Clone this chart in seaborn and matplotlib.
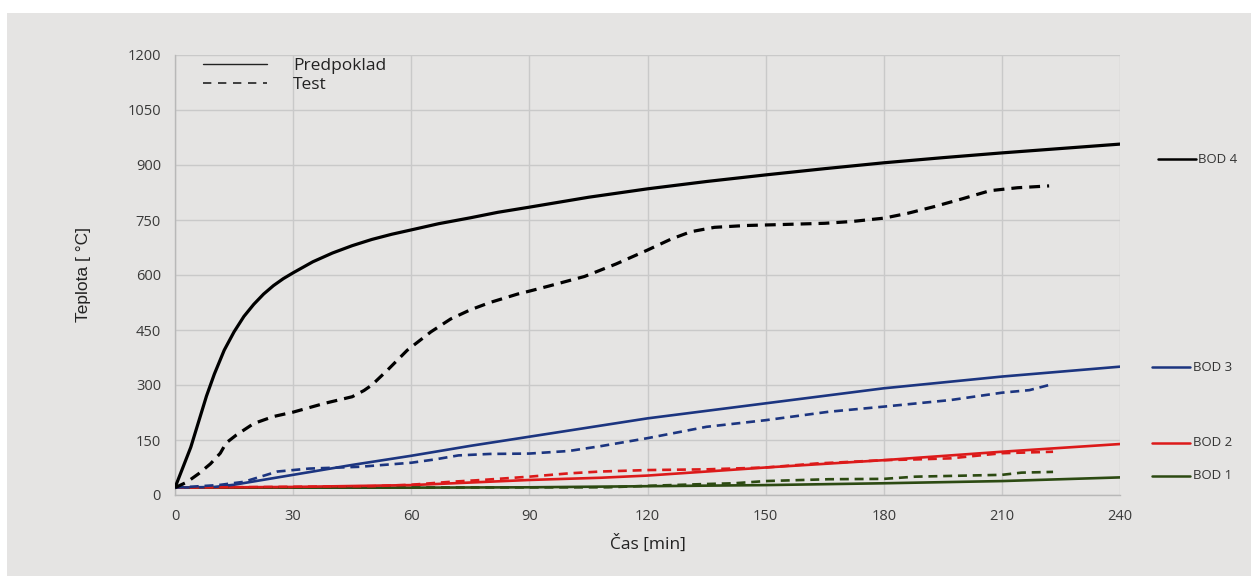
import matplotlib
matplotlib.use("Agg")
import matplotlib.pyplot as plt
import matplotlib.transforms as mtransforms
from matplotlib.lines import Line2D
from matplotlib.patches import Rectangle
import seaborn as sns

# Data (time in minutes, temperature in degC)
bod4_pred_t = [0, 2, 4, 6, 8, 10, 12.5, 15, 17.5, 20, 22.5, 25, 27.5, 30, 35, 40, 45, 50, 55, 60, 67, 75,
               82, 90, 105, 120, 135, 150, 165, 180, 195, 210, 225, 240]
bod4_pred_v = [20, 75, 130, 200, 270, 330, 395, 445, 487, 520, 548, 571, 590, 606, 636, 660, 680, 697, 711, 723,
               740, 756, 771, 785, 812, 835, 855, 873, 890, 906, 920, 933, 945, 957]

bod4_test_t = [0, 3, 6, 9, 11.5, 13, 15.5, 20, 25, 30, 38, 45, 48, 50, 54, 59, 65, 70, 75, 80, 87, 90, 95,
               104, 112, 120, 126, 131, 137, 145, 152, 165, 172, 180, 186, 193, 200, 207, 214, 222]
bod4_test_v = [20, 35, 58, 85, 114, 142, 163, 195, 214, 226, 250, 268, 285, 300, 341, 395, 445, 480, 505, 525,
               548, 556, 570, 596, 630, 668, 698, 718, 730, 735, 737, 741, 746, 755, 768, 787, 808, 830, 838, 843]

bod3_pred_t = [0, 10, 15, 20, 30, 45, 60, 75, 90, 120, 150, 180, 210, 240]
bod3_pred_v = [20, 22, 28, 37, 55, 82, 107, 134, 159, 209, 250, 291, 323, 350]

bod3_test_t = [0, 11, 17.5, 26, 34, 47, 60, 66, 72, 80, 90, 100, 108, 120, 135, 150, 166, 180, 197, 210, 217, 222]
bod3_test_v = [20, 27, 36, 64, 72, 77, 88, 97, 108, 112, 113, 120, 133, 155, 186, 204, 227, 241, 259, 279, 286, 300]

bod2_pred_t = [0, 30, 60, 90, 108, 120, 150, 180, 210, 240]
bod2_pred_v = [20, 22, 27, 41, 47, 53, 75, 95, 118, 139]

bod2_test_t = [0, 50, 60, 70, 78, 90, 100, 108, 120, 135, 150, 163, 180, 188, 197, 210, 223]
bod2_test_v = [20, 24, 28, 36, 41, 50, 59, 64, 68, 70, 75, 86, 95, 97, 100, 114, 118]

bod1_pred_t = [0, 60, 90, 120, 150, 180, 210, 240]
bod1_pred_v = [20, 20, 21, 24, 27, 32, 38, 48]

bod1_test_t = [0, 110, 120, 135, 142, 150, 166, 180, 188, 210, 215, 223]
bod1_test_v = [20, 21, 25, 30, 32, 38, 43, 44, 50, 55, 61, 63]

bod_names = ["BOD 1", "BOD 2", "BOD 3", "BOD 4"]
bod_colors = ["#2c4a12", "#dc1a1a", "#1c3580", "#000000"]
label_y = [52, 142, 349, 916]

x_ticks = [0, 30, 60, 90, 120, 150, 180, 210, 240]
y_ticks = [0, 150, 300, 450, 600, 750, 900, 1050, 1200]

BG = "#e5e4e3"
TEXT = "#3a3a3a"


def draw_chart():
    sns.set_theme(style="whitegrid")
    plt.rcParams["font.family"] = ["Open Sans", "DejaVu Sans"]

    fig = plt.figure(figsize=(12.51, 5.76), dpi=100, facecolor="white")
    # grey panel (white strip along top and left edge as in the screenshot)
    fig.patches.append(Rectangle((7 / 1251, 0), 1, 1 - 13 / 576, transform=fig.transFigure,
                                 facecolor=BG, edgecolor="none", zorder=-10))
    ax = fig.add_axes([175 / 1251, 81 / 576, 945 / 1251, 440 / 576])
    ax.set_facecolor(BG)

    series = [
        (bod1_pred_t, bod1_pred_v, bod1_test_t, bod1_test_v),
        (bod2_pred_t, bod2_pred_v, bod2_test_t, bod2_test_v),
        (bod3_pred_t, bod3_pred_v, bod3_test_t, bod3_test_v),
        (bod4_pred_t, bod4_pred_v, bod4_test_t, bod4_test_v),
    ]
    for (pt, pv, tt, tv), color in zip(series, bod_colors):
        lw = 2.3 if color == "#000000" else 1.9
        sns.lineplot(x=pt, y=pv, ax=ax, color=color, linewidth=lw, zorder=3)
        sns.lineplot(x=tt, y=tv, ax=ax, color=color, linewidth=lw,
                     linestyle=(0, (3.4, 2.2)), zorder=4)

    ax.set_xlim(0, 240)
    ax.set_ylim(0, 1200)
    ax.set_xticks(x_ticks)
    ax.set_yticks(y_ticks)
    ax.tick_params(axis="both", length=0, labelsize=10.5, colors=TEXT, pad=10)
    ax.grid(True, color="#c9c9c9", linewidth=1.0)
    for side in ["top", "right"]:
        ax.spines[side].set_visible(False)
    for side in ["left", "bottom"]:
        ax.spines[side].set_color("#b8b8b8")
        ax.spines[side].set_linewidth(1.0)

    ax.set_xlabel("Čas [min]", fontsize=12.5, color="#222222", labelpad=8)
    ax.set_ylabel("Teplota [ °C]", fontsize=12.5, color="#222222", labelpad=26,
                  family=["Liberation Sans", "DejaVu Sans"])

    # legend: line style only
    handles = [
        Line2D([], [], color="#222222", linewidth=1.0),
        Line2D([], [], color="#222222", linewidth=1.2, linestyle=(0, (5, 4))),
    ]
    ax.legend(handles, ["Predpoklad", "Test"], loc="upper left", frameon=False,
              fontsize=12.5, handlelength=3.7, handletextpad=1.5, labelspacing=0.2,
              bbox_to_anchor=(0.013, 1.03), labelcolor="#222222")

    # point labels to the right of the plot
    trans = mtransforms.blended_transform_factory(ax.transAxes, ax.transData)
    for name, color, yv in zip(bod_names, bod_colors, label_y):
        x0 = 1.040 if name == "BOD 4" else 1.034
        x1 = x0 + 0.040
        ax.add_line(Line2D([x0, x1], [yv, yv], transform=trans, color=color,
                           linewidth=1.8, clip_on=False))
        ax.text(x1 + 0.003, yv, name, transform=trans, fontsize=9.5, color="#333333",
                va="center", ha="left")

    fig.savefig("out.png", dpi=100, facecolor=fig.get_facecolor())


if __name__ == "__main__":
    draw_chart()
